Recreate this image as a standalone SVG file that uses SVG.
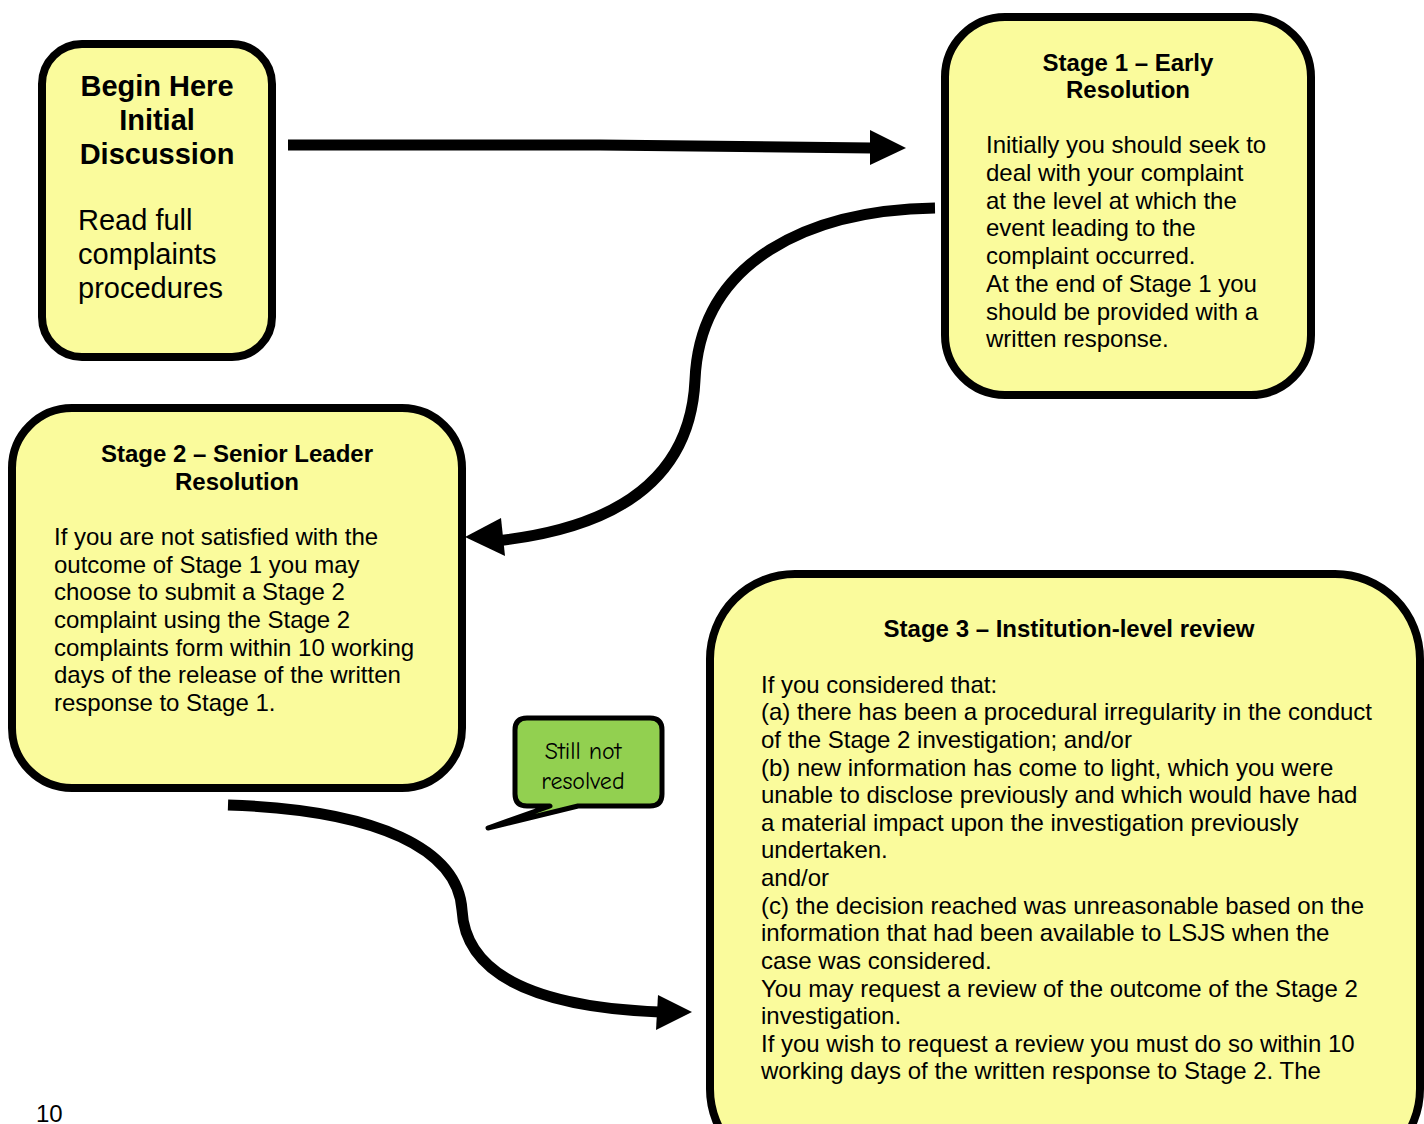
<svg xmlns="http://www.w3.org/2000/svg" width="1424" height="1124" viewBox="0 0 1424 1124">
<style>
.box{fill:#FAFB9C;stroke:#000;stroke-width:8}
.t{font-family:"Liberation Sans",Arial,sans-serif;font-size:24px;fill:#000}
.b{font-weight:bold}
.big{font-size:29px}
.c{text-anchor:middle}
.conn{fill:none;stroke:#000;stroke-width:11}
.head{fill:#000}
.callt{font-family:"Comic Sans MS","Comic Neue","DejaVu Sans",cursive;font-size:24px;fill:#000;text-anchor:middle}
</style>
<rect width="1424" height="1124" fill="#fff"/>
<g id="connectors">
<path class="conn" d="M288,145 L600,145 L872,148"/>
<polygon class="head" points="870,130 906,148 870,165"/>
<path class="conn" d="M935,208 C810,210 700,260 695,380 C690,490 600,530 495,541"/>
<polygon class="head" points="465,537 501,518 505,556"/>
<path class="conn" d="M228,805 C380,810 458,850 462,910 C466,985 560,1008 660,1012"/>
<polygon class="head" points="692,1012 658,995 656,1030"/>
</g>
<g id="begin">
<rect class="box" x="42" y="44" width="230" height="313" rx="40"/>
<text class="t b big c" x="157" y="96">Begin Here</text>
<text class="t b big c" x="157" y="130">Initial</text>
<text class="t b big c" x="157" y="164">Discussion</text>
<text class="t big" x="78" y="230">Read full</text>
<text class="t big" x="78" y="264">complaints</text>
<text class="t big" x="78" y="298">procedures</text>
</g>
<g id="stage1">
<rect class="box" x="945" y="17" width="366" height="378" rx="60"/>
<text class="t b c" x="1128" y="71">Stage 1 – Early</text>
<text class="t b c" x="1128" y="98">Resolution</text>
<text class="t" x="986" y="153">Initially you should seek to</text>
<text class="t" x="986" y="181">deal with your complaint</text>
<text class="t" x="986" y="209">at the level at which the</text>
<text class="t" x="986" y="236">event leading to the</text>
<text class="t" x="986" y="264">complaint occurred.</text>
<text class="t" x="986" y="292">At the end of Stage 1 you</text>
<text class="t" x="986" y="320">should be provided with a</text>
<text class="t" x="986" y="347">written response.</text>
</g>
<g id="stage2">
<rect class="box" x="12" y="408" width="450" height="380" rx="60"/>
<text class="t b c" x="237" y="462">Stage 2 – Senior Leader</text>
<text class="t b c" x="237" y="490">Resolution</text>
<text class="t" x="54" y="545">If you are not satisfied with the</text>
<text class="t" x="54" y="573">outcome of Stage 1 you may</text>
<text class="t" x="54" y="600">choose to submit a Stage 2</text>
<text class="t" x="54" y="628">complaint using the Stage 2</text>
<text class="t" x="54" y="656">complaints form within 10 working</text>
<text class="t" x="54" y="683">days of the release of the written</text>
<text class="t" x="54" y="711">response to Stage 1.</text>
</g>
<g id="stage3">
<rect class="box" x="710" y="574" width="710" height="600" rx="85"/>
<text class="t b c" x="1069" y="637">Stage 3 – Institution-level review</text>
<text class="t" x="761" y="693">If you considered that:</text>
<text class="t" x="761" y="720">(a) there has been a procedural irregularity in the conduct</text>
<text class="t" x="761" y="748">of the Stage 2 investigation; and/or</text>
<text class="t" x="761" y="776">(b) new information has come to light, which you were</text>
<text class="t" x="761" y="803">unable to disclose previously and which would have had</text>
<text class="t" x="761" y="831">a material impact upon the investigation previously</text>
<text class="t" x="761" y="858">undertaken.</text>
<text class="t" x="761" y="886">and/or</text>
<text class="t" x="761" y="914">(c) the decision reached was unreasonable based on the</text>
<text class="t" x="761" y="941">information that had been available to LSJS when the</text>
<text class="t" x="761" y="969">case was considered.</text>
<text class="t" x="761" y="997">You may request a review of the outcome of the Stage 2</text>
<text class="t" x="761" y="1024">investigation.</text>
<text class="t" x="761" y="1052">If you wish to request a review you must do so within 10</text>
<text class="t" x="761" y="1079">working days of the written response to Stage 2. The</text>
</g>
<g id="callout">
<path d="M527,718 L650,718 Q662,718 662,730 L662,794 Q662,806 650,806 L578,806 L488,828 L550,806 L527,806 Q515,806 515,794 L515,730 Q515,718 527,718 Z" fill="#92D050" stroke="#000" stroke-width="5" stroke-linejoin="round"/>
<text class="callt" x="583" y="759">Still not</text>
<text class="callt" x="583" y="789">resolved</text>
</g>
<text class="t" x="36" y="1122">10</text>
</svg>
